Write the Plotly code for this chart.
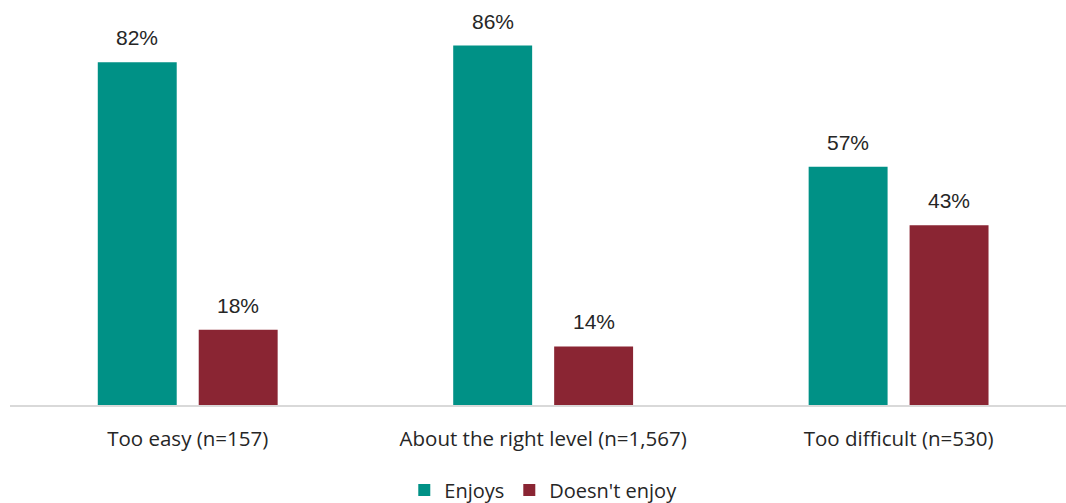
import plotly.graph_objects as go

categories = ["Too easy (n=157)", "About the right level (n=1,567)", "Too difficult (n=530)"]
enjoys = [82, 86, 57]
doesnt_enjoy = [18, 14, 43]
series_names = ["Enjoys", "Doesn't enjoy"]
colors = ["#009186", "#8A2533"]

fig = go.Figure()
for name, vals, col in zip(series_names, [enjoys, doesnt_enjoy], colors):
    fig.add_trace(go.Bar(
        x=categories, y=vals, name=name, marker=dict(color=col, line=dict(width=0)),
    ))

# value labels above each bar (offset to the bar's position within its group)
for vals, shift in [(enjoys, -50.5), (doesnt_enjoy, 50.5)]:
    for cat, v in zip(categories, vals):
        fig.add_annotation(
            x=cat, y=v, xref="x", yref="y", text=f"{v}%", showarrow=False,
            xshift=shift, yshift=11, yanchor="bottom",
            font=dict(family="Liberation Sans, Arial", size=21, color="#262626"),
        )

fig.update_layout(
    width=1066, height=503,
    margin=dict(l=10, r=0, t=0, b=98, autoexpand=False),
    barmode="group", bargap=0.432, bargroupgap=0.218,
    plot_bgcolor="white", paper_bgcolor="white",
    legend=dict(orientation="h", x=0.505, xanchor="center", y=0.026, yanchor="middle",
                yref="container",
                font=dict(family="Open Sans", size=20, color="#262626"),
                itemwidth=30, traceorder="normal"),
    xaxis=dict(range=[-0.5, 2.471], showline=True, linecolor="#d9d9d9", linewidth=2,
               ticks="", ticklabelstandoff=14,
               tickfont=dict(family="Open Sans", size=20.5, color="#262626")),
    yaxis=dict(range=[0, 96.9], visible=False, showgrid=False),
)

fig.write_html("out.html")
